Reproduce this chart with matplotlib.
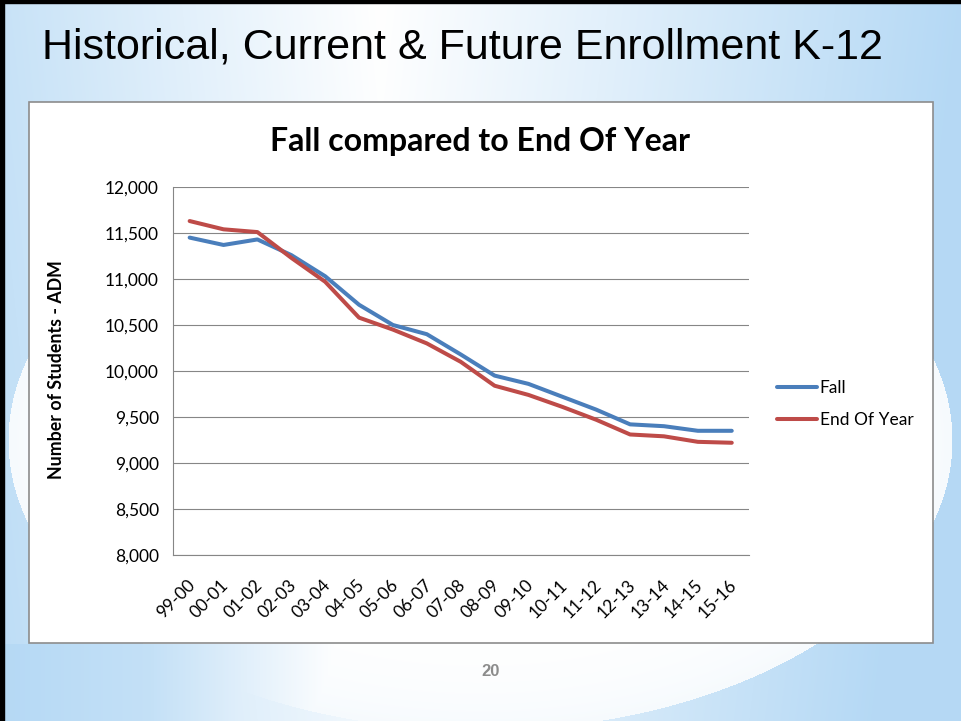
import numpy as np
import matplotlib
matplotlib.use('Agg')
import matplotlib.pyplot as plt
import matplotlib.transforms as mtransforms
from matplotlib.patches import Rectangle
from matplotlib.ticker import FuncFormatter

# school years on the x axis
years = ['99-00', '00-01', '01-02', '02-03', '03-04', '04-05', '05-06', '06-07',
         '07-08', '08-09', '09-10', '10-11', '11-12', '12-13', '13-14', '14-15', '15-16']
# enrollment (ADM)
fall = [11450, 11370, 11430, 11260, 11030, 10720, 10500, 10400,
        10180, 9950, 9860, 9720, 9580, 9420, 9400, 9350, 9350]
end_of_year = [11630, 11540, 11510, 11230, 10970, 10580, 10450, 10300,
               10100, 9840, 9740, 9610, 9470, 9310, 9290, 9230, 9220]
y_ticks = [8000, 8500, 9000, 9500, 10000, 10500, 11000, 11500, 12000]

W, H = 961, 721
fig = plt.figure(figsize=(W / 100, H / 100), dpi=100)

# slide background: blue gradient with a white ellipse
xx, yy = np.meshgrid(np.arange(W), np.arange(H))
w = np.interp(xx, [0, 380, W], [0.75, 0.0, 1.0])
w = np.clip(w + 0.15 * (yy / H), 0, 1)
inside = ((xx - 480) / 472.0) ** 2 + ((yy - 440) / 290.0) ** 2
w = np.where(inside < 1, 0.12 * inside ** 3, w)
# bottom strip turns blue again on the left
w_bottom = np.interp(xx, [0, 150, 340], [1.0, 0.8, 0.0])
w = np.where(yy > 643, np.maximum(w, w_bottom), w)
blue = np.array([0.71, 0.85, 0.96])
img = (1 - w[..., None]) * np.ones(3) + w[..., None] * blue
bg = fig.add_axes([0, 0, 1, 1], zorder=0)
bg.imshow(img, aspect='auto', extent=[0, 1, 0, 1], origin='upper')
bg.axis('off')

# black slide edge at top and left
fig.add_artist(Rectangle((0, 1 - 3 / H), 1, 3 / H, transform=fig.transFigure,
                         color='black', zorder=1))
fig.add_artist(Rectangle((0, 0), 4 / W, 1, transform=fig.transFigure,
                         color='black', zorder=1))

fig.text(42 / W, 1 - 47 / H, 'Historical, Current & Future Enrollment K-12',
         family='Liberation Sans', fontsize=31, va='center', ha='left', zorder=2)

# white chart box
fig.add_artist(Rectangle((29 / W, 1 - 643 / H), 904 / W, 541 / H,
                         transform=fig.transFigure, facecolor='white',
                         edgecolor='#8c8c8c', lw=1.2, zorder=1))

fig.text(480 / W, 1 - 141 / H, 'Fall compared to End Of Year',
         family='Lato', weight='bold', fontsize=23, ha='center', va='center', zorder=2)

fig.text(491 / W, 1 - 672 / H, '20', family='Liberation Sans', weight='bold',
         fontsize=12, color='#8c8c8c', ha='center', va='center', zorder=2)

ax = fig.add_axes([172.7 / W, 1 - 555 / H, 576 / W, 368 / H], zorder=3)
ax.patch.set_alpha(0)
x = np.arange(len(years))
ax.plot(x, fall, color='#4A7EBB', lw=2.9, label='Fall', solid_capstyle='round')
ax.plot(x, end_of_year, color='#BE4B48', lw=2.9, label='End Of Year', solid_capstyle='round')

ax.set_xlim(-0.5, len(years) - 0.5)
ax.set_ylim(8000, 12000)
ax.set_yticks(y_ticks)
ax.yaxis.set_major_formatter(FuncFormatter(lambda v, p: f'{int(v):,}'))
ax.set_xticks(x)
ax.set_xticklabels(years, rotation=45, ha='right', va='top', rotation_mode='anchor')
ax.grid(axis='y', color='#868686', lw=0.8)
ax.set_axisbelow(True)
for s in ['top', 'right']:
    ax.spines[s].set_visible(False)
for s in ['left', 'bottom']:
    ax.spines[s].set_color('#868686')
    ax.spines[s].set_linewidth(0.8)
ax.tick_params(length=0, labelsize=12.5, pad=10)
ax.tick_params(axis='x', pad=16)
shift = mtransforms.ScaledTranslation(-3 / 100, 0, fig.dpi_scale_trans)
for t in ax.get_xticklabels():
    t.set_transform(t.get_transform() + shift)
for t in ax.get_xticklabels() + ax.get_yticklabels():
    t.set_family('Lato')

ax.set_ylabel('Number of Students - ADM', family='Lato', weight='bold', fontsize=12.8)
ax.yaxis.set_label_coords((65 - 172.7) / 576, (555 - 370) / 368)

leg = ax.legend(loc='center left', bbox_to_anchor=(777 / W, 1 - 404 / H),
                bbox_transform=fig.transFigure, frameon=False, borderpad=0,
                borderaxespad=0, handlelength=2.3, handletextpad=0.15,
                labelspacing=0.9, prop={'family': 'Lato', 'size': 12.5})

fig.savefig('out.png', dpi=100)
